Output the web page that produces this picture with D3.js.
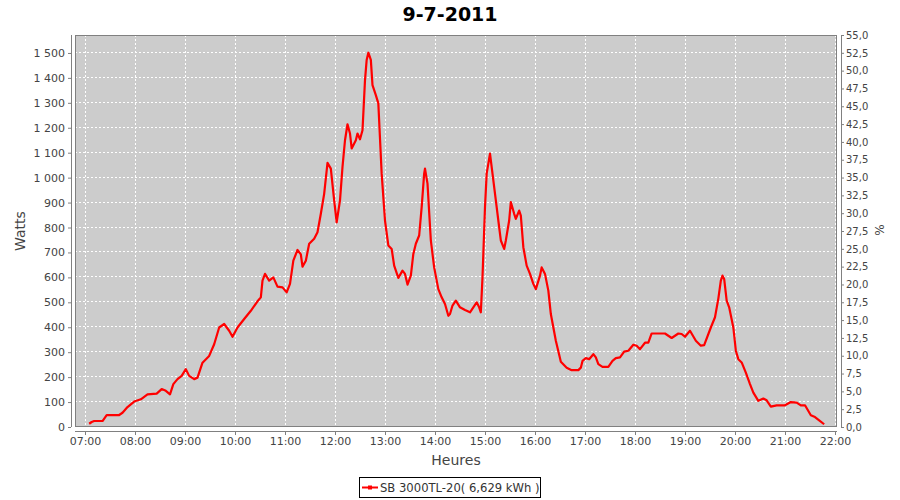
<!DOCTYPE html>
<html><head><meta charset="utf-8">
<script src="https://cdn.jsdelivr.net/npm/d3@7"></script>
<style>body{margin:0;background:#fff;}svg{display:block;}</style>
</head><body><svg id="c" width="900" height="500"></svg>
<script>
const title = "9-7-2011";
const seriesName = "SB 3000TL-20( 6,629 kWh )";
const xTicks = ["07:00","08:00","09:00","10:00","11:00","12:00","13:00","14:00","15:00","16:00","17:00","18:00","19:00","20:00","21:00","22:00"];
const leftTicks = [0,100,200,300,400,500,600,700,800,900,1000,1100,1200,1300,1400,1500];
const rightTicks = [0,2.5,5,7.5,10,12.5,15,17.5,20,22.5,25,27.5,30,32.5,35,37.5,40,42.5,45,47.5,50,52.5,55];
const times = ["07:05","07:08","07:11","07:21","07:26","07:33","07:41","07:45","07:51","07:59","08:07","08:15","08:26","08:32","08:37","08:42","08:46","08:51","08:56","09:01","09:05","09:11","09:15","09:21","09:29","09:35","09:41","09:47","09:53","09:57","10:03","10:11","10:19","10:27","10:31","10:33","10:36","10:41","10:46","10:51","10:57","11:02","11:06","11:10","11:15","11:19","11:21","11:25","11:29","11:35","11:39","11:43","11:47","11:51","11:55","11:59","12:02","12:06","12:09","12:12","12:15","12:18","12:20","12:25","12:27","12:30","12:33","12:36","12:38","12:40","12:43","12:45","12:49","12:52","12:56","13:00","13:04","13:08","13:11","13:16","13:21","13:24","13:27","13:31","13:34","13:37","13:41","13:44","13:47","13:48","13:51","13:55","13:59","14:04","14:08","14:12","14:16","14:18","14:21","14:25","14:30","14:36","14:42","14:46","14:50","14:53","14:55","14:57","15:00","15:02","15:06","15:09","15:13","15:17","15:19","15:23","15:25","15:29","15:31","15:35","15:37","15:41","15:43","15:46","15:50","15:54","15:58","16:01","16:06","16:08","16:12","16:16","16:19","16:25","16:31","16:38","16:44","16:52","16:55","16:57","17:01","17:05","17:10","17:13","17:16","17:21","17:28","17:33","17:37","17:42","17:47","17:52","17:58","18:02","18:06","18:12","18:16","18:20","18:27","18:36","18:44","18:52","18:56","19:00","19:06","19:13","19:19","19:23","19:31","19:36","19:40","19:43","19:45","19:47","19:50","19:53","19:58","20:01","20:04","20:08","20:13","20:18","20:22","20:28","20:34","20:38","20:43","20:50","21:00","21:07","21:14","21:19","21:24","21:31","21:36","21:41","21:47"];
const watts = [13,20,24,24,48,48,48,57,80,102,111,131,134,152,145,131,172,192,205,232,205,192,198,258,285,332,399,413,386,362,399,433,466,504,520,587,614,587,600,563,560,540,574,667,710,692,643,667,735,755,781,855,935,1059,1036,909,821,909,1043,1150,1214,1177,1117,1150,1177,1154,1190,1391,1472,1501,1472,1371,1331,1298,1016,828,728,714,647,598,627,614,571,607,694,735,768,882,1016,1036,976,748,640,553,520,493,446,453,487,507,480,469,460,480,500,480,460,600,882,1016,1096,1016,909,801,748,714,748,828,902,855,835,868,848,721,647,614,574,553,607,640,614,547,453,346,262,238,228,228,238,265,276,272,292,279,252,241,241,265,276,279,302,306,330,326,312,338,338,375,375,375,357,375,373,362,386,346,326,328,399,440,515,587,607,594,507,480,399,306,272,259,218,172,138,105,114,107,82,87,87,100,98,87,87,47,40,27,11];

const toH = s => { const [h,m] = s.split(":").map(Number); return h + m/60; };
const data = times.map((t,i) => ({x: toH(t), y: watts[i]}));

const svg = d3.select("#c");
const pL = 75, pR = 837, pT = 35, pB = 427;
const x = d3.scaleLinear().domain([7,22]).range([85,835]);
const yL = d3.scaleLinear().domain([0,1572]).range([pB,pT]);
const yR = d3.scaleLinear().domain([0,55]).range([pB,pT]);
const font = "DejaVu Sans, Verdana, sans-serif";

svg.append("text").attr("x",450).attr("y",21).attr("text-anchor","middle")
  .attr("font-family",font).attr("font-weight","bold").attr("font-size",19).attr("fill","#000").text(title);

svg.append("rect").attr("x",pL).attr("y",pT).attr("width",pR-pL).attr("height",pB-pT).attr("fill","#cccccc");

const grid = svg.append("g").attr("stroke","#ffffff").attr("stroke-width",1).attr("stroke-dasharray","2,2");
xTicks.forEach(t => { const xx = Math.round(x(toH(t)))+0.5; grid.append("line").attr("x1",xx).attr("x2",xx).attr("y1",pT).attr("y2",pB); });
leftTicks.forEach(v => { const yy = Math.round(yL(v))-0.5; grid.append("line").attr("x1",pL).attr("x2",pR).attr("y1",yy).attr("y2",yy); });

svg.append("rect").attr("x",pL+0.5).attr("y",pT+0.5).attr("width",pR-pL-1).attr("height",pB-pT-1).attr("fill","none").attr("stroke","#808080");

svg.append("defs").append("clipPath").attr("id","clip").append("rect").attr("x",pL).attr("y",pT).attr("width",pR-pL).attr("height",pB-pT);
const line = d3.line().x(d=>x(d.x)).y(d=>yL(d.y)).curve(d3.curveLinear);
svg.append("path").datum(data).attr("clip-path","url(#clip)").attr("d",line)
  .attr("fill","none").attr("stroke","#ff0000").attr("stroke-width",2.2).attr("stroke-linejoin","round");

const styleAxis = g => {
  g.select(".domain").attr("stroke","#808080");
  g.selectAll(".tick line").attr("stroke","#808080");
  g.selectAll(".tick text").attr("fill","#444").attr("font-family",font).attr("font-size",11);
};
const fmtTime = v => { const h = Math.round(v); return (h<10?"0":"")+h+":00"; };
const xAxis = d3.axisBottom(x).tickValues(xTicks.map(toH)).tickFormat(fmtTime).tickSizeOuter(0).tickSize(4).tickPadding(2);
svg.append("g").attr("transform",`translate(0,${pB+4})`).call(xAxis).call(styleAxis)
  .call(g => g.select(".domain").attr("d",`M${pL},0.5H${pR}`));

const fmtW = v => v >= 1000 ? Math.floor(v/1000) + "\u00a0" + String(v%1000).padStart(3,"0") : String(v);
const lAxis = d3.axisLeft(yL).tickValues(leftTicks).tickFormat(fmtW).tickSizeOuter(0).tickSize(3).tickPadding(3);
svg.append("g").attr("transform",`translate(${pL-4},0)`).call(lAxis).call(styleAxis)
  .call(g => g.select(".domain").attr("d",`M0.5,${pT}V${pB}`));

const fmtR = v => v.toFixed(1).replace(".",",");
const rAxis = d3.axisRight(yR).tickValues(rightTicks).tickFormat(fmtR).tickSizeOuter(0).tickSize(3).tickPadding(2);
svg.append("g").attr("transform",`translate(${pR+4},0)`).call(rAxis).call(styleAxis)
  .call(g => { g.select(".domain").attr("d",`M0.5,${pT}V${pB}`); g.selectAll(".tick text").attr("font-size",10); });

svg.append("text").attr("transform","translate(25,231) rotate(-90)").attr("text-anchor","middle")
  .attr("font-family",font).attr("font-size",14).attr("fill","#444").text("Watts");
svg.append("text").attr("transform","translate(884,230) rotate(-90)").attr("text-anchor","middle")
  .attr("font-family",font).attr("font-size",12).attr("fill","#444").text("%");
svg.append("text").attr("x",456).attr("y",465).attr("text-anchor","middle")
  .attr("font-family",font).attr("font-size",14).attr("fill","#444").text("Heures");

const lg = svg.append("g");
lg.append("rect").attr("x",359.5).attr("y",477.5).attr("width",181).attr("height",20).attr("fill","#fff").attr("stroke","#000");
lg.append("line").attr("x1",362).attr("x2",378).attr("y1",487.5).attr("y2",487.5).attr("stroke","#ff0000").attr("stroke-width",2);
lg.append("rect").attr("x",368).attr("y",485.5).attr("width",4).attr("height",4).attr("fill","#ff0000");
lg.append("text").attr("x",380).attr("y",491.5).attr("font-family",font).attr("font-size",11.6).attr("fill","#333").text(seriesName);
</script></body></html>
